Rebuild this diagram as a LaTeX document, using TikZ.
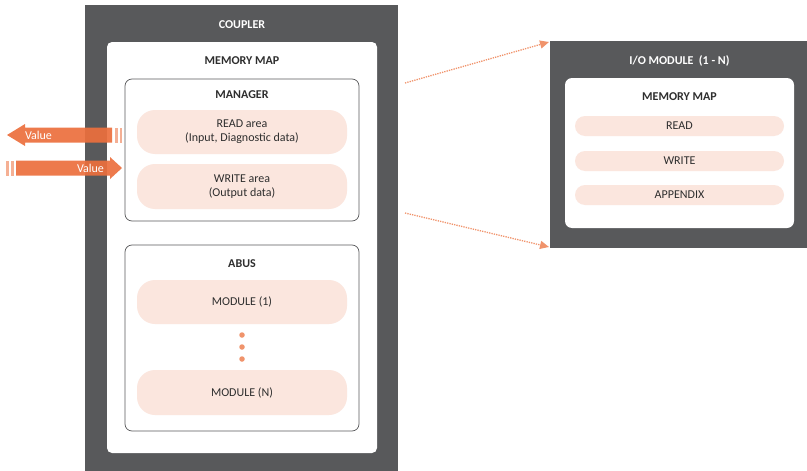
\documentclass[tikz,border=0pt]{standalone}
\usepackage{fontspec}
\setmainfont{Carlito}
\usetikzlibrary{arrows.meta}
\definecolor{dark}{HTML}{58595B}
\definecolor{pill}{HTML}{FBE6DE}
\definecolor{orng}{HTML}{EC6F3D}
\definecolor{dotc}{HTML}{F0936B}
\definecolor{txt}{HTML}{2E2E2E}
\tikzset{
  whitebox/.style={fill=white, draw=none, rounded corners=5pt, inner sep=0pt},
  framebox/.style={fill=white, draw=dark, line width=0.7pt, rounded corners=7pt, inner sep=0pt},
  pillbox/.style={fill=pill, draw=none, rounded corners=10pt, inner sep=0pt, text=txt, font=\fontsize{12}{14}\selectfont, align=center},
  title/.style={font=\bfseries\fontsize{12}{14}\selectfont, text=txt},
  wtitle/.style={font=\bfseries\fontsize{12}{14}\selectfont, text=white},
  link/.style={draw=dotc, line width=1.3pt, dash pattern=on 1.3pt off 1.1pt, -{Triangle[length=9pt,width=8pt]}},
  valtext/.style={text=white, font=\fontsize{12}{14}\selectfont, inner sep=0pt}
}
\begin{document}
\begin{tikzpicture}[x=1pt,y=-1pt]
\useasboundingbox (0,0) rectangle (807,471);
% coupler
\node[fill=dark, minimum width=313pt, minimum height=466pt, inner sep=0pt] (coupler) at (241.5,238) {};
\node[wtitle] (couplerT) at (242,25) {COUPLER};
\node[whitebox, minimum width=270pt, minimum height=411pt] (mm) at (242,247.5) {};
\node[title] (mmT) at (242,61) {MEMORY MAP};
\node[framebox, minimum width=234pt, minimum height=142pt] (mgr) at (242,150) {};
\node[title] (mgrT) at (242,95) {MANAGER};
\node[pillbox, minimum width=210pt, minimum height=44pt, rounded corners=18pt] (rd) at (242,132) {READ area\\(Input, Diagnostic data)};
\node[pillbox, minimum width=210pt, minimum height=45pt, rounded corners=18pt] (wr) at (242,186.5) {WRITE area\\(Output data)};
\node[framebox, minimum width=234pt, minimum height=186pt] (abus) at (242,338) {};
\node[title] (abusT) at (242,264) {ABUS};
\node[pillbox, minimum width=210pt, minimum height=44pt, rounded corners=18pt] (m1) at (242,302) {MODULE (1)};
\node[pillbox, minimum width=210pt, minimum height=45pt, rounded corners=18pt] (mn) at (242,392.5) {MODULE (N)};
\foreach \yy/\nm in {335/d1,347/d2,359/d3}
  \node[circle, fill=dotc, minimum size=5.5pt, inner sep=0pt] (\nm) at (242,\yy) {};
% io module
\node[fill=dark, minimum width=257pt, minimum height=207pt, inner sep=0pt] (io) at (678.5,144.5) {};
\node[wtitle] (ioT) at (679.5,61) {I/O MODULE~~(1 - N)};
\node[whitebox, minimum width=229pt, minimum height=150pt, rounded corners=7pt] (iomm) at (679.5,153) {};
\node[title] (iommT) at (679.5,97) {MEMORY MAP};
\node[pillbox, minimum width=209pt, minimum height=20pt] (iord) at (679.5,126) {READ};
\node[pillbox, minimum width=209pt, minimum height=20pt] (iowr) at (679.5,161) {WRITE};
\node[pillbox, minimum width=209pt, minimum height=20pt] (ioap) at (679.5,195) {APPENDIX};
% links
\coordinate (s1) at (405,83);
\coordinate (e1) at (549,42);
\coordinate (s2) at (405,213);
\coordinate (e2) at (549,247);
\draw[link] (s1) -- (e1);
\draw[link] (s2) -- (e2);
% value arrows
\fill[orng, opacity=0.92] (7,135) -- (25,124) -- (25,127.5) -- (112,127.5) -- (112,142.5) -- (25,142.5) -- (25,146) -- cycle;
\fill[orng, opacity=0.55] (115,127.5) rectangle (117.5,142.5);
\fill[orng, opacity=0.55] (119.5,127.5) rectangle (122,142.5);
\node[valtext] (v1) at (38.5,135) {Value};
\fill[orng, opacity=0.92] (122,168) -- (110,157) -- (110,160.5) -- (16,160.5) -- (16,175.5) -- (110,175.5) -- (110,179) -- cycle;
\fill[orng, opacity=0.55] (6,160.5) rectangle (8.5,175.5);
\fill[orng, opacity=0.55] (11,160.5) rectangle (13.5,175.5);
\node[valtext] (v2) at (90.5,168) {Value};
\end{tikzpicture}
\end{document}
